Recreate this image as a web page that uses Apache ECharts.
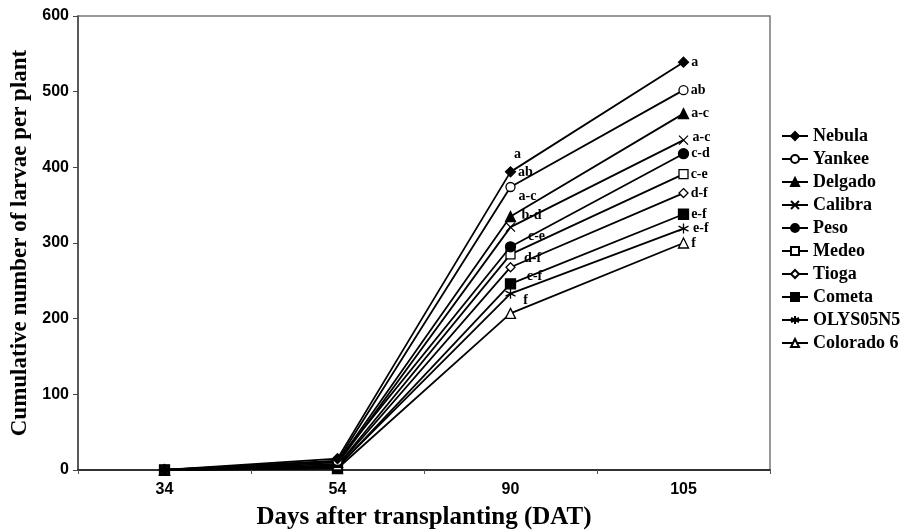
<!DOCTYPE html>
<html><head><meta charset="utf-8">
<script src="https://cdn.jsdelivr.net/npm/echarts@6/dist/echarts.min.js"></script>
<style>html,body{margin:0;padding:0;background:#fff}#c{width:907px;height:532px}</style>
</head><body><div id="c"></div>
<script>
const days = ['34', '54', '90', '105'];
const yTicks = [0, 100, 200, 300, 400, 500, 600];
const cultivars = ['Nebula', 'Yankee', 'Delgado', 'Calibra', 'Peso', 'Medeo', 'Tioga', 'Cometa', 'OLYS05N5', 'Colorado 6'];
const nebula   = [0, 15, 394, 539];
const yankee   = [0, 12, 374, 502];
const delgado  = [0, 10, 335, 471];
const calibra  = [0, 8, 321, 436];
const peso     = [0, 12, 295, 418];
const medeo    = [0, 6, 285, 391];
const tioga    = [0, 5, 268, 366];
const cometa   = [0, 3, 246, 338];
const olys     = [0, 4, 233, 319];
const colorado = [0, 2, 207, 300];
const letters90  = ['a', 'ab', 'a-c', 'b-d', 'c-e', '', 'd-f', 'c-f', '', 'f'];
const letters105 = ['a', 'ab', 'a-c', 'a-c', 'c-d', 'c-e', 'd-f', 'e-f', 'e-f', 'f'];

const values = [nebula, yankee, delgado, calibra, peso, medeo, tioga, cometa, olys, colorado];
const X = 'path://M0,0L10,10M10,0L0,10';
const AST = 'path://M5,0L5,10M0.7,2.5L9.3,7.5M9.3,2.5L0.7,7.5';
const sym = [
  {s:'diamond', z:10, fill:'#000'},
  {s:'circle', z:9, fill:'#fff'},
  {s:'triangle', z:10, fill:'#000'},
  {s:X, z:9, fill:'none'},
  {s:'circle', z:10, fill:'#000'},
  {s:'rect', z:9, fill:'#fff'},
  {s:'diamond', z:9, fill:'#fff'},
  {s:'rect', z:10, fill:'#000'},
  {s:AST, z:10, fill:'none'},
  {s:'triangle', z:10, fill:'#fff'}
];
const off90 = [[7,-17],[15,-15],[17,-20],[21,-12],[26,-10],[0,0],[22,-9],[24,-7],[0,0],[15,-13]];
const off105 = [[0,0],[0,0],[0,0],[0,-3],[0,0],[0,0],[0,0],[0,0],[0,0],[0,0]];
const lblFont = {fontFamily:'Liberation Serif', fontWeight:'bold', fontSize:14, color:'#000'};

const series = cultivars.map((name, i) => ({
  name, type:'line', symbol: sym[i].s, symbolSize: sym[i].z,
  lineStyle:{color:'#000', width:1.8},
  itemStyle:{color: sym[i].fill, borderColor:'#000', borderWidth:1.3},
  z: 10 - i,
  data: values[i].map((v, j) => {
    const d = {value: v};
    if (j === 2 && letters90[i]) {
      d.label = Object.assign({show:true, formatter: letters90[i], position:'inside', offset: off90[i], align:'center', verticalAlign:'middle'}, lblFont);
    } else if (j === 3) {
      d.label = Object.assign({show:true, formatter: letters105[i], position:'right', distance:2, offset: off105[i]}, lblFont);
    }
    return d;
  })
}));

const chart = echarts.init(document.getElementById('c'), null, {renderer:'canvas'});
chart.setOption({
  animation:false,
  backgroundColor:'#fff',
  grid:{left:78, right:137, top:16, bottom:62, show:true, borderColor:'#777', borderWidth:1.5,
    containLabel:false, outerBoundsMode:'none'},
  legend:{
    orient:'vertical', left:776, top:122, itemWidth:26, itemHeight:10, itemGap:5,
    textStyle:{fontFamily:'Liberation Serif', fontWeight:'bold', fontSize:18, color:'#000'},
    data: cultivars
  },
  xAxis:{
    type:'category', data: days, boundaryGap:true,
    name:'Days after transplanting (DAT)', nameLocation:'middle', nameGap:35,
    nameTextStyle:{fontFamily:'Liberation Serif', fontWeight:'bold', fontSize:25, color:'#000'},
    axisLine:{lineStyle:{color:'#111', width:1.5}},
    axisTick:{show:true, length:4, lineStyle:{color:'#555'}},
    axisLabel:{fontFamily:'Liberation Sans', fontWeight:'bold', fontSize:16, color:'#000', margin:12}
  },
  yAxis:{
    type:'value', min:0, max:600, interval:100,
    name:'Cumulative number of larvae per plant', nameLocation:'middle', nameGap:45,
    nameTextStyle:{fontFamily:'Liberation Serif', fontWeight:'bold', fontSize:23, color:'#000'},
    axisLine:{show:true, lineStyle:{color:'#444', width:1.5}},
    axisTick:{show:true, length:5, lineStyle:{color:'#444'}},
    splitLine:{show:false},
    axisLabel:{fontFamily:'Liberation Sans', fontWeight:'bold', fontSize:16, color:'#000', margin:9,
      formatter: v => yTicks.includes(v) ? String(v) : ''}
  },
  series
});
</script></body></html>
